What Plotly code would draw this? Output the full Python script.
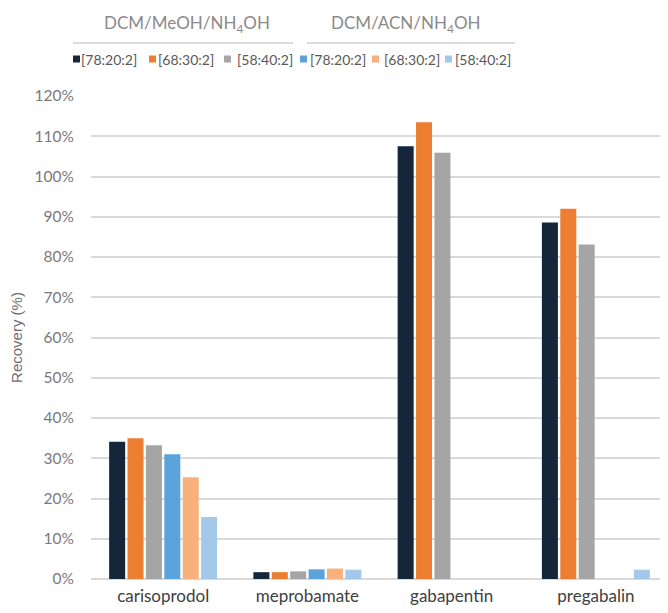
import plotly.graph_objects as go

# Recovery (%) per analyte
analytes = ["carisoprodol", "meprobamate", "gabapentin", "pregabalin"]

meoh_78_20_2 = [34.1, 1.7, 107.5, 88.6]
meoh_68_30_2 = [35.0, 1.7, 113.5, 92.0]
meoh_58_40_2 = [33.2, 1.9, 105.9, 83.1]
acn_78_20_2 = [31.0, 2.4, None, None]
acn_68_30_2 = [25.3, 2.6, None, None]
acn_58_40_2 = [15.4, 2.3, None, 2.3]

series_labels = ["[78:20:2]", "[68:30:2]", "[58:40:2]", "[78:20:2]", "[68:30:2]", "[58:40:2]"]
group_titles = ["DCM/MeOH/NH<sub>4</sub>OH", "DCM/ACN/NH<sub>4</sub>OH"]
y_ticks = list(range(0, 121, 10))
y_tick_labels = [f"{v}%" for v in y_ticks]

series_values = [meoh_78_20_2, meoh_68_30_2, meoh_58_40_2, acn_78_20_2, acn_68_30_2, acn_58_40_2]
colors = ["#15263A", "#ED7D31", "#A5A5A5", "#5BA3DB", "#F8B07C", "#A4C8EA"]

# the page body adds an 8px margin, so the figure is 8px smaller than the window
PAGE = 8
W, H = 668 - PAGE, 613 - PAGE
L, R, T, B = 91 - PAGE, 0, 96 - PAGE, 34

fig = go.Figure()
for i, vals in enumerate(series_values):
    fig.add_trace(
        go.Bar(
            x=analytes,
            y=vals,
            name=series_labels[i],
            marker=dict(color=colors[i], line=dict(width=0)),
            showlegend=False,
        )
    )

# custom legend: two group headers with rules, then coloured squares + labels
# (positions given in window pixels, converted to paper coords)
def px_x(p):
    return (p - PAGE - L) / (W - L - R)

def px_y(p):
    return 1 - (p - PAGE - T) / (H - T - B)

header_centres = [187, 406]
rule_spans = [(73, 293), (307, 515)]
for title, cx, (x0, x1) in zip(group_titles, header_centres, rule_spans):
    fig.add_annotation(
        x=px_x(cx), y=px_y(24), xref="paper", yref="paper",
        text=title, showarrow=False, xanchor="center", yanchor="middle",
        font=dict(size=17, color="#8A8A8A", family="Lato, sans-serif"),
    )
    fig.add_shape(
        type="line", xref="paper", yref="paper",
        x0=px_x(x0), x1=px_x(x1), y0=px_y(43), y1=px_y(43),
        line=dict(color="#D0D0D0", width=1.5),
    )

square_x = [73, 149, 224, 300, 372, 445]
text_x = [80, 157, 236, 309, 383, 454]
for i, lab in enumerate(series_labels):
    fig.add_shape(
        type="rect", xref="paper", yref="paper",
        x0=px_x(square_x[i]), x1=px_x(square_x[i] + 7),
        y0=px_y(55.5), y1=px_y(62.5),
        fillcolor=colors[i], line=dict(width=0),
    )
    fig.add_annotation(
        x=px_x(text_x[i]), y=px_y(59), xref="paper", yref="paper",
        text=lab, showarrow=False, xanchor="left", yanchor="middle", borderpad=0,
        font=dict(size=14, color="#595959", family="Lato, sans-serif"),
    )

fig.update_layout(
    width=W,
    height=H,
    barmode="group",
    bargap=0.235,
    bargroupgap=0.13,
    paper_bgcolor="white",
    plot_bgcolor="white",
    margin=dict(l=L, r=R, t=T, b=B),
    font=dict(family="Lato, sans-serif", color="#595959"),
    xaxis=dict(
        tickfont=dict(size=17, color="#404040"),
        showline=False,
        showgrid=False,
        ticks="",
        ticklabelstandoff=5,
        automargin=False,
    ),
    yaxis=dict(
        range=[0, 120],
        tickvals=y_ticks,
        ticktext=y_tick_labels,
        tickfont=dict(size=15.5, color="#7A7A7A"),
        gridcolor="#D9D9D9",
        gridwidth=1.5,
        zeroline=True,
        zerolinecolor="#D9D9D9",
        zerolinewidth=1.5,
        ticklabelstandoff=16,
        automargin=False,
        title=dict(
            text="Recovery (%)",
            font=dict(size=15, color="#6F6F6F", family="Liberation Sans, Arial, sans-serif"),
            standoff=10,
        ),
    ),
)

fig.write_html("out.html")
